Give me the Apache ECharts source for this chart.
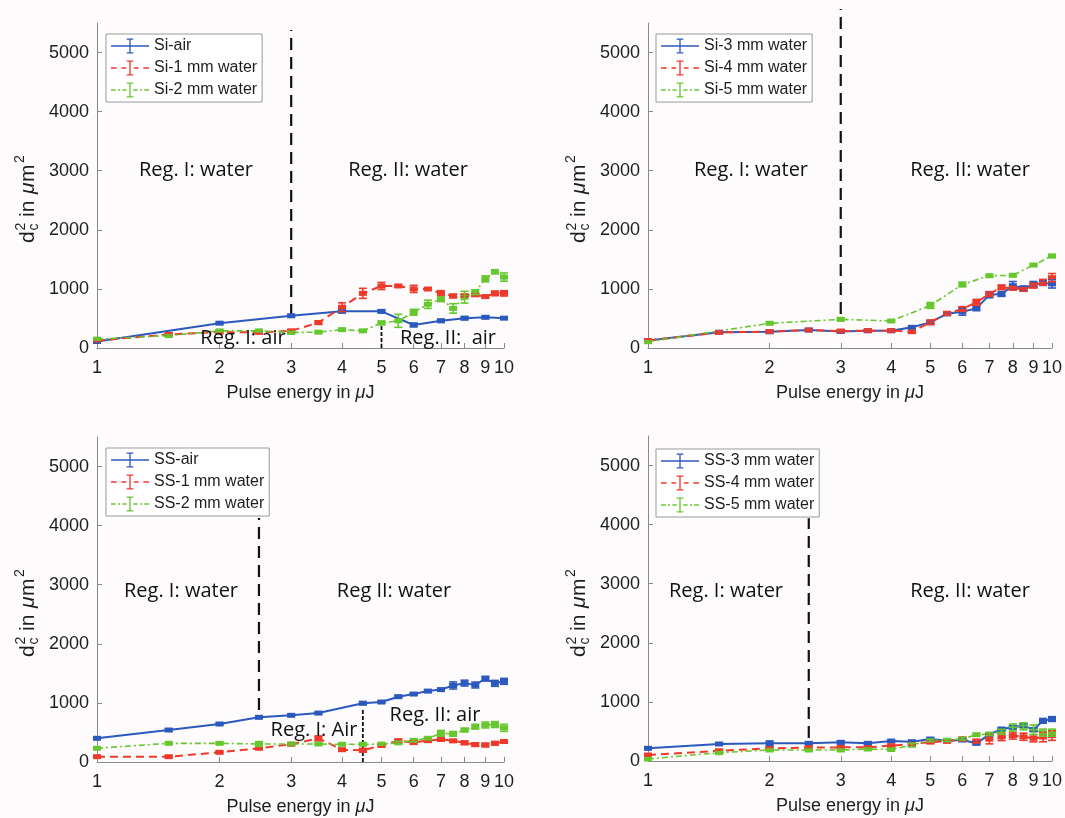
<!DOCTYPE html>
<html><head><meta charset="utf-8">
<script src="https://cdn.jsdelivr.net/npm/echarts@6/dist/echarts.min.js"></script>
<style>html,body{margin:0;padding:0;background:#fdfbfb}#c{width:1065px;height:818px}</style>
</head><body><div id="c"></div><script>
// ---------- data ----------
const xHalf = [1,1.5,2,2.5,3,3.5,4,4.5,5,5.5,6,6.5,7,7.5,8,8.5,9,9.5,10];
const xInt = [1,2,3,4,5,6,7,8,9,10];
const ssAirX = [1,1.5,2,2.5,3,3.5,4.5,5,5.5,6,6.5,7,7.5,8,8.5,9,9.5,10];
const xTicks = [1,2,3,4,5,6,7,8,9,10];
const yTicks = [0,1000,2000,3000,4000,5000];

// Si panel (top-left)
const siAirY  = [110,420,545,620,620,390,460,505,520,505];
const siAirE  = [15,15,20,20,25,30,25,25,20,15];
const si1mmY  = [125,230,270,265,290,430,690,925,1050,1050,1000,998,925,880,885,900,870,925,925];
const si1mmE  = [15,15,20,15,20,30,75,85,60,20,60,20,45,30,20,20,20,40,45];
const si2mmY  = [150,210,290,290,262,268,310,290,425,460,605,740,825,670,860,945,1170,1290,1200];
const si2mmE  = [15,15,15,15,15,15,20,15,30,110,50,70,40,80,100,40,50,35,70];
// Si panel (top-right)
const si3mmY  = [125,265,276,304,280,293,293,350,434,580,615,671,900,914,1055,1010,1075,1100,1085];
const si3mmE  = [15,15,15,15,15,15,15,25,30,30,60,40,50,40,70,40,50,40,70];
const si4mmY  = [125,265,276,304,287,293,293,276,434,586,660,773,914,1027,1010,990,1055,1111,1190];
const si4mmE  = [15,15,15,15,15,15,15,20,40,30,40,50,40,40,30,30,40,50,70];
const si5mmY  = [107,418,485,457,720,1075,1223,1230,1404,1557];
const si5mmE  = [15,15,20,20,50,40,20,20,20,25];
// SS panel (bottom-left)
const ssAirY  = [401,541,643,756,790,828,995,1015,1105,1150,1200,1225,1295,1335,1303,1410,1331,1365];
const ssAirE  = [15,20,15,15,15,15,25,20,20,20,20,20,60,50,50,40,50,50];
const ss1mmY  = [90,90,164,232,300,401,208,198,280,358,330,361,384,358,325,295,288,316,347];
const ss1mmE  = [15,15,15,15,15,40,20,30,20,30,30,20,30,20,30,30,30,30,25];
const ss2mmY  = [232,316,316,305,305,305,300,300,303,325,366,401,485,476,541,598,626,634,578];
const ss2mmE  = [15,15,15,40,15,15,15,15,15,20,20,20,50,40,30,40,50,50,60];
// SS panel (bottom-right)
const ss3mmY  = [214,288,299,299,316,299,338,327,372,344,355,299,450,540,570,600,530,680,710];
const ss3mmE  = [15,15,40,15,25,20,15,15,20,15,20,20,20,25,30,30,30,40,40];
const ss4mmY  = [101,174,214,225,231,231,259,288,320,333,370,335,370,405,430,410,384,405,430];
const ss4mmE  = [15,15,20,20,15,15,15,20,20,20,30,30,80,60,60,60,60,80,80];
const ss5mmY  = [34,141,186,186,186,203,195,270,350,350,375,445,455,496,567,587,530,479,479];
const ss5mmE  = [15,15,15,15,15,15,15,30,20,20,20,20,20,40,60,60,80,60,60];

// region boundaries (x value, y range in data units)
const boundX   = [3, 5, 3, 2.5, 4.5, 2.5];
const boundLo  = [540, 0, 575, 880, 0, 390];
const boundHi  = [5380, 440, 5735, 4130, 910, 4110];
const boundPanel = [0, 0, 1, 2, 2, 3];
const boundKind  = ['long','short','long','long','short','long'];

// ---------- styling ----------
const FONT = '"Liberation Sans", Arial, sans-serif';
const NOTEFONT = '"Open Sans", "Noto Sans", sans-serif';
const BLUE = '#2c59bd', RED = '#ee3a2b', GREEN = '#66c82e';
const AXIS = '#8a8a8a', TXT = '#1e1e1e';

const panels = [
  {left:97,  top:23,  legend:[106,34]},
  {left:648, top:23,  legend:[656,34]},
  {left:97,  top:437, legend:[106,448]},
  {left:648, top:436, legend:[656,449]}
];
const W = 407, H = 325;

const seriesDefs = [
  {p:0, name:'Si-air',        x:xInt,   y:siAirY, e:siAirE, c:BLUE,  k:'solid'},
  {p:0, name:'Si-1 mm water', x:xHalf,  y:si1mmY, e:si1mmE, c:RED,   k:'dash'},
  {p:0, name:'Si-2 mm water', x:xHalf,  y:si2mmY, e:si2mmE, c:GREEN, k:'dashdot'},
  {p:1, name:'Si-3 mm water', x:xHalf,  y:si3mmY, e:si3mmE, c:BLUE,  k:'solid'},
  {p:1, name:'Si-4 mm water', x:xHalf,  y:si4mmY, e:si4mmE, c:RED,   k:'dash'},
  {p:1, name:'Si-5 mm water', x:xInt,   y:si5mmY, e:si5mmE, c:GREEN, k:'dashdot'},
  {p:2, name:'SS-air',        x:ssAirX, y:ssAirY, e:ssAirE, c:BLUE,  k:'solid'},
  {p:2, name:'SS-1 mm water', x:xHalf,  y:ss1mmY, e:ss1mmE, c:RED,   k:'dash'},
  {p:2, name:'SS-2 mm water', x:xHalf,  y:ss2mmY, e:ss2mmE, c:GREEN, k:'dashdot'},
  {p:3, name:'SS-3 mm water', x:xHalf,  y:ss3mmY, e:ss3mmE, c:BLUE,  k:'solid'},
  {p:3, name:'SS-4 mm water', x:xHalf,  y:ss4mmY, e:ss4mmE, c:RED,   k:'dash'},
  {p:3, name:'SS-5 mm water', x:xHalf,  y:ss5mmY, e:ss5mmE, c:GREEN, k:'dashdot'}
];

const lineType = {solid:'solid', dash:[8,5], dashdot:[6,3,2,3]};
const lineW = {solid:2, dash:2, dashdot:1.6};
const BAR = 'M19.3,2H20.7V18H19.3Z M16.5,2H23.5V3.4H16.5Z M16.5,16.6H23.5V18H16.5Z';
const icons = {
  solid:  'path://M0,9.2H40V10.8H0Z ' + BAR,
  dash:   'path://M0,9.2H6V10.8H0Z M11,9.2H16V10.8H11Z M24,9.2H29V10.8H24Z M34,9.2H40V10.8H34Z ' + BAR,
  dashdot:'path://M0,9.3H5V10.7H0Z M7.5,9.3H9.5V10.7H7.5Z M12,9.3H16.5V10.7H12Z M23.5,9.3H28V10.7H23.5Z M30.5,9.3H32.5V10.7H30.5Z M35,9.3H40V10.7H35Z ' + BAR
};

const grid = [], xAxis = [], yAxis = [], legend = [], series = [], graphic = [];

panels.forEach((p, i) => {
  grid.push({left:p.left, top:p.top, width:W, height:H});
  xAxis.push({
    type:'log', logBase:10, min:1, max:10, gridIndex:i,
    axisLine:{lineStyle:{color:AXIS, width:1}},
    axisTick:{inside:true, length:5, customValues:xTicks, lineStyle:{color:AXIS}},
    axisLabel:{customValues:xTicks, margin:11, fontSize:18, fontFamily:FONT, color:TXT,
               formatter:v => String(Math.round(v))},
    splitLine:{show:false}, minorTick:{show:false}, minorSplitLine:{show:false},
    name:'{a|Pulse energy in }{b|μ}{a|J}', nameLocation:'middle', nameGap:36,
    nameTextStyle:{rich:{
      a:{fontSize:18, fontFamily:FONT, color:TXT},
      b:{fontSize:18, fontFamily:FONT, fontStyle:'italic', color:TXT}}}
  });
  yAxis.push({
    type:'value', min:0, max:5500, gridIndex:i,
    axisLine:{show:true, lineStyle:{color:AXIS, width:1}},
    axisTick:{show:true, inside:true, length:5, customValues:yTicks, lineStyle:{color:AXIS}},
    axisLabel:{customValues:yTicks, margin:8, fontSize:18, fontFamily:FONT, color:TXT,
               formatter:v => String(Math.round(v))},
    splitLine:{show:false}
  });
  const defs = seriesDefs.filter(s => s.p === i);
  legend.push({
    orient:'vertical', left:p.legend[0], top:p.legend[1],
    itemWidth:38, itemHeight:16, itemGap:6, padding:[4,5,4,5],
    backgroundColor:'#ffffff', borderColor:'#9a9a9a', borderWidth:1,
    textStyle:{fontSize:16, fontFamily:FONT, color:TXT, padding:[0,0,0,0]},
    data: defs.map(s => ({name:s.name, icon:icons[s.k]}))
  });
});

seriesDefs.forEach(s => {
  series.push({
    type:'line', name:s.name, xAxisIndex:s.p, yAxisIndex:s.p,
    data:s.x.map((x, j) => [x, s.y[j]]),
    symbol:'rect', symbolSize:[8,5], showSymbol:true,
    itemStyle:{color:s.c},
    lineStyle:{color:s.c, width:lineW[s.k], type:lineType[s.k]},
    z:3, animation:false
  });
  series.push({
    type:'custom', name:s.name + ' err', xAxisIndex:s.p, yAxisIndex:s.p,
    data:s.x.map((x, j) => [x, s.y[j], s.e[j]]),
    encode:{x:0, y:1},
    silent:true, z:4, animation:false,
    renderItem:(params, api) => {
      const x = api.value(0), y = api.value(1), e = api.value(2);
      const top = api.coord([x, y + e]);
      const bot = api.coord([x, y - e]);
      const cap = 4;
      const st = {stroke:s.c, lineWidth:1.6};
      return {type:'group', children:[
        {type:'line', shape:{x1:top[0], y1:top[1], x2:bot[0], y2:bot[1]}, style:st},
        {type:'line', shape:{x1:top[0]-cap, y1:top[1], x2:top[0]+cap, y2:top[1]}, style:st},
        {type:'line', shape:{x1:bot[0]-cap, y1:bot[1], x2:bot[0]+cap, y2:bot[1]}, style:st}
      ]};
    }
  });
});

boundX.forEach((bx, j) => {
  const longK = boundKind[j] === 'long';
  series.push({
    type:'line', name:'boundary' + j, xAxisIndex:boundPanel[j], yAxisIndex:boundPanel[j],
    data:[[bx, boundLo[j]], [bx, boundHi[j]]],
    symbol:'none', clip:false, silent:true, z:2, animation:false,
    lineStyle:{color:'#111', width:longK ? 2.2 : 1.8, type:longK ? [12,7] : [4,2]}
  });
});

// ---------- annotations ----------
const noteText  = ['Reg. I: water','Reg. II: water','Reg. I: air','Reg. II:  air',
                   'Reg. I: water','Reg. II: water',
                   'Reg. I: water','Reg II: water','Reg. I: Air','Reg. II: air',
                   'Reg. I: water','Reg. II: water'];
const notePos = [[196,170],[408,170],[243,338],[448,338],
                 [751,170],[970,170],
                 [181,591],[394,591],[314,730],[435,715],
                 [726,591],[970,591]];
noteText.forEach((t, j) => {
  graphic.push({type:'text', x:notePos[j][0], y:notePos[j][1], z:10, silent:true,
    style:{text:t, fontSize:20, fontFamily:NOTEFONT, fill:'#111', align:'center', verticalAlign:'middle'}});
});

function yName(cx, by) {
  const big = {fontSize:21, fontFamily:FONT, fill:TXT, verticalAlign:'middle', align:'left'};
  const small = {fontSize:14, fontFamily:FONT, fill:TXT, verticalAlign:'middle', align:'left'};
  return {type:'group', x:cx, y:by, rotation:Math.PI/2, silent:true, children:[
    {type:'text', x:0,  y:0,  style:Object.assign({text:'d'}, big)},
    {type:'text', x:12.5, y:-7, style:Object.assign({text:'2'}, small)},
    {type:'text', x:12.5, y:6,  style:Object.assign({text:'c'}, small)},
    {type:'text', x:26, y:0,  style:Object.assign({text:'in'}, big)},
    {type:'text', x:49, y:0,  style:Object.assign({text:'μ', fontStyle:'italic'}, big)},
    {type:'text', x:61, y:0,  style:Object.assign({text:'m'}, big)},
    {type:'text', x:80, y:-8, style:Object.assign({text:'2'}, small)}
  ]};
}
graphic.push(yName(28, 243), yName(579, 243), yName(28, 657), yName(579, 657));

const chart = echarts.init(document.getElementById('c'), null, {renderer:'canvas'});
chart.setOption({
  backgroundColor:'#fdfbfb', animation:false,
  grid, xAxis, yAxis, legend, series, graphic
});
</script></body></html>
